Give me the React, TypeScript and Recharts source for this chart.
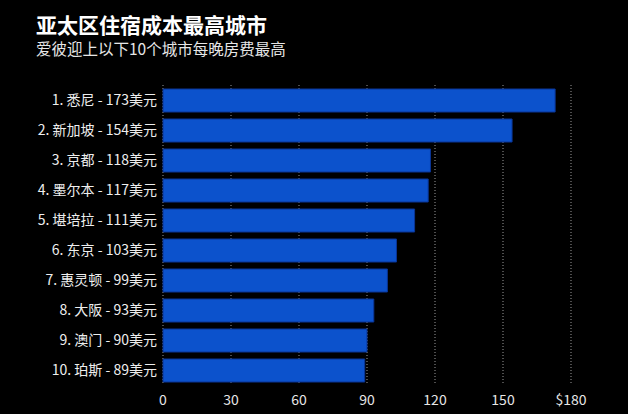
import React from "react";
import { BarChart, Bar, XAxis, YAxis, CartesianGrid } from "recharts";

const cities = ["1. 悉尼", "2. 新加坡", "3. 京都", "4. 墨尔本", "5. 堪培拉", "6. 东京", "7. 惠灵顿", "8. 大阪", "9. 澳门", "10. 珀斯"];
const prices = [173, 154, 118, 117, 111, 103, 99, 93, 90, 89];
const xTicks = [0, 30, 60, 90, 120, 150, 180];

const chartData = cities.map((c, i) => ({ name: `${c} - ${prices[i]}美元`, price: prices[i] }));

const FONT = '"Noto Sans CJK SC", "Noto Sans", sans-serif';

const App: React.FC = () => {
  return (
    <div
      style={{
        position: "absolute",
        top: 0,
        left: 0,
        width: 628,
        height: 414,
        background: "#000",
        fontFamily: FONT,
        overflow: "hidden",
      }}
    >
      <div style={{ position: "absolute", left: 36, top: 13, fontSize: 21, lineHeight: "22px", fontWeight: 700, color: "#fff" }}>
        亚太区住宿成本最高城市
      </div>
      <div style={{ position: "absolute", left: 36, top: 40, fontSize: 15.5, lineHeight: "17px", color: "#e6e6e6" }}>
        爱彼迎上以下10个城市每晚房费最高
      </div>
      <BarChart
        width={628}
        height={414}
        data={chartData}
        layout="vertical"
        margin={{ top: 85, right: 57, bottom: 0, left: 0 }}
        barSize={23}
      >
        <CartesianGrid horizontal={false} stroke="#9a9a9a" strokeDasharray="1 2" />
        <XAxis
          type="number"
          domain={[0, 180]}
          ticks={xTicks}
          height={29}
          axisLine={false}
          tickLine={false}
          tickSize={0}
          tickMargin={10}
          interval={0}
          tick={{ fill: "#e6e6e6", fontSize: 14, fontFamily: FONT }}
          tickFormatter={(v: number) => (v === 180 ? "$180" : String(v))}
        />
        <YAxis
          type="category"
          dataKey="name"
          width={163}
          axisLine={false}
          tickLine={false}
          tickSize={0}
          tickMargin={6}
          interval={0}
          tick={{ fill: "#eeeeee", fontSize: 14, fontFamily: FONT }}
        />
        <Bar dataKey="price" fill="#0c52cc" stroke="#0a3596" strokeWidth={1} isAnimationActive={false} />
      </BarChart>
    </div>
  );
};

export default App;
